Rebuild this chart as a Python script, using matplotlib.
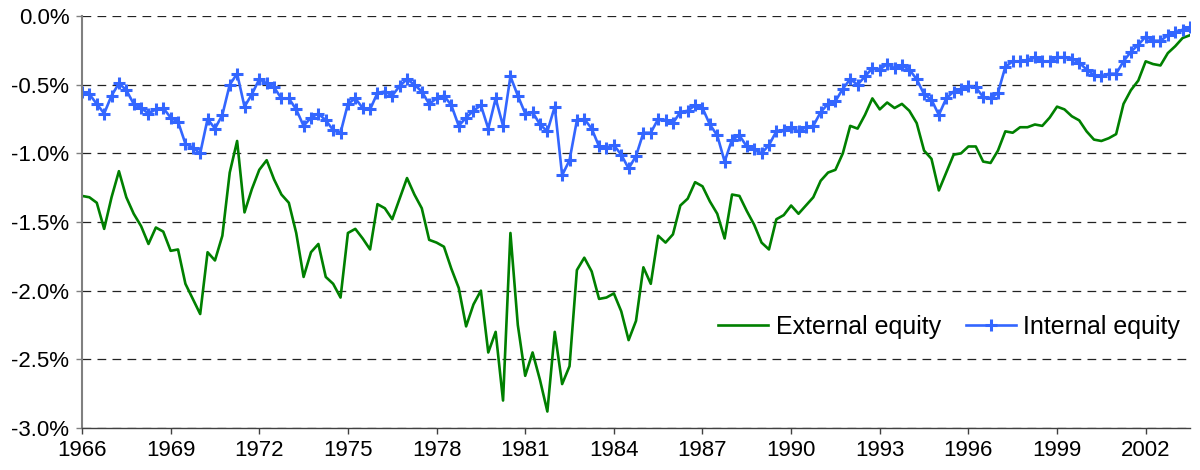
import numpy as np
import matplotlib
matplotlib.use("Agg")
import matplotlib.pyplot as plt
from matplotlib.ticker import FuncFormatter

plt.rcParams['font.family'] = ['Liberation Sans', 'DejaVu Sans']

# quarterly readings, first quarter 1966 to mid 2003 (percent)
start_year = 1966
external = [
    -1.31, -1.32, -1.36, -1.55, -1.32, -1.13, -1.32, -1.44, -1.53, -1.66,
    -1.54, -1.57, -1.71, -1.70, -1.95, -2.06, -2.17, -1.72, -1.78, -1.60,
    -1.14, -0.91, -1.43, -1.26, -1.12, -1.05, -1.19, -1.30, -1.36, -1.58,
    -1.90, -1.72, -1.66, -1.90, -1.95, -2.05, -1.58, -1.55, -1.62, -1.70,
    -1.37, -1.40, -1.48, -1.33, -1.18, -1.30, -1.40, -1.63, -1.65, -1.68,
    -1.84, -1.98, -2.26, -2.10, -2.00, -2.45, -2.30, -2.80, -1.58, -2.25,
    -2.62, -2.45, -2.65, -2.88, -2.30, -2.68, -2.55, -1.85, -1.76, -1.86,
    -2.06, -2.05, -2.02, -2.15, -2.36, -2.22, -1.83, -1.95, -1.60, -1.65,
    -1.59, -1.38, -1.33, -1.21, -1.24, -1.35, -1.44, -1.62, -1.30, -1.31,
    -1.42, -1.52, -1.65, -1.70, -1.48, -1.45, -1.38, -1.44, -1.38, -1.32,
    -1.20, -1.14, -1.12, -1.00, -0.80, -0.82, -0.72, -0.60, -0.68, -0.63,
    -0.67, -0.64, -0.69, -0.78, -0.98, -1.04, -1.27, -1.14, -1.01, -1.00,
    -0.95, -0.95, -1.06, -1.07, -0.98, -0.84, -0.85, -0.81, -0.81, -0.79,
    -0.80, -0.74, -0.66, -0.68, -0.73, -0.76, -0.84, -0.90, -0.91, -0.89,
    -0.86, -0.64, -0.54, -0.47, -0.33, -0.35, -0.36, -0.27, -0.22, -0.16,
    -0.14,
]
internal = [
    -0.55, -0.57, -0.64, -0.71, -0.58, -0.49, -0.54, -0.64, -0.67, -0.71,
    -0.68, -0.67, -0.74, -0.77, -0.93, -0.96, -1.00, -0.75, -0.82, -0.72,
    -0.50, -0.42, -0.66, -0.57, -0.46, -0.49, -0.52, -0.60, -0.60, -0.68,
    -0.80, -0.74, -0.71, -0.76, -0.83, -0.85, -0.64, -0.60, -0.67, -0.68,
    -0.56, -0.55, -0.58, -0.51, -0.46, -0.50, -0.55, -0.64, -0.60, -0.58,
    -0.65, -0.80, -0.74, -0.69, -0.65, -0.82, -0.60, -0.80, -0.44, -0.58,
    -0.71, -0.70, -0.79, -0.84, -0.66, -1.16, -1.05, -0.76, -0.75, -0.82,
    -0.95, -0.96, -0.94, -1.01, -1.11, -1.02, -0.85, -0.85, -0.75, -0.76,
    -0.78, -0.70, -0.69, -0.65, -0.67, -0.79, -0.87, -1.06, -0.90, -0.87,
    -0.95, -0.97, -1.00, -0.94, -0.84, -0.83, -0.81, -0.84, -0.81, -0.80,
    -0.70, -0.64, -0.62, -0.53, -0.46, -0.50, -0.44, -0.38, -0.39, -0.35,
    -0.38, -0.36, -0.39, -0.46, -0.57, -0.61, -0.72, -0.60, -0.55, -0.53,
    -0.51, -0.52, -0.59, -0.60, -0.56, -0.37, -0.33, -0.33, -0.32, -0.30,
    -0.33, -0.33, -0.30, -0.30, -0.31, -0.34, -0.39, -0.43, -0.44, -0.42,
    -0.42, -0.33, -0.26, -0.21, -0.15, -0.18, -0.18, -0.14, -0.12, -0.10,
    -0.08,
]
tick_years = list(range(1966, 2003, 3))

x = start_year + np.arange(len(external)) / 4.0

fig = plt.figure(figsize=(12, 4.7), dpi=100)
ax = fig.add_axes([82 / 1200, 1 - 428 / 470, 1108 / 1200, 412 / 470])

for v in np.arange(-3.0, 0.01, 0.5):
    ax.axhline(v, color='#222222', lw=0.9, dashes=(7, 5), zorder=0)

ax.plot(x, external, color='#008000', lw=1.9, label='External equity')
ax.plot(x, internal, color='#3366FF', lw=1.9, marker='+', ms=9, mew=2.2,
        label='Internal equity')

ax.set_xlim(1966, x[-1])
ax.set_ylim(-3.0, 0.0)
ax.set_xticks(tick_years)
ax.set_yticks(np.arange(-3.0, 0.01, 0.5))
ax.yaxis.set_major_formatter(FuncFormatter(lambda v, p: f"{v + 0.0:.1f}%"))

for s in ['top', 'right']:
    ax.spines[s].set_visible(False)
ax.spines['left'].set_color('#808080')
ax.spines['left'].set_linewidth(1.5)
ax.spines['bottom'].set_color('#404040')
ax.spines['bottom'].set_linewidth(1.0)
ax.tick_params(axis='both', labelsize=16, length=4, width=1, pad=5,
               color='#404040')
ax.tick_params(axis='y', color='#808080')

ax.legend(loc='center', bbox_to_anchor=(0.7825, 0.245), ncol=2,
          frameon=False, fontsize=18, handlelength=2.0, handletextpad=0.3,
          columnspacing=1.0)

fig.savefig('out.png', dpi=100)
